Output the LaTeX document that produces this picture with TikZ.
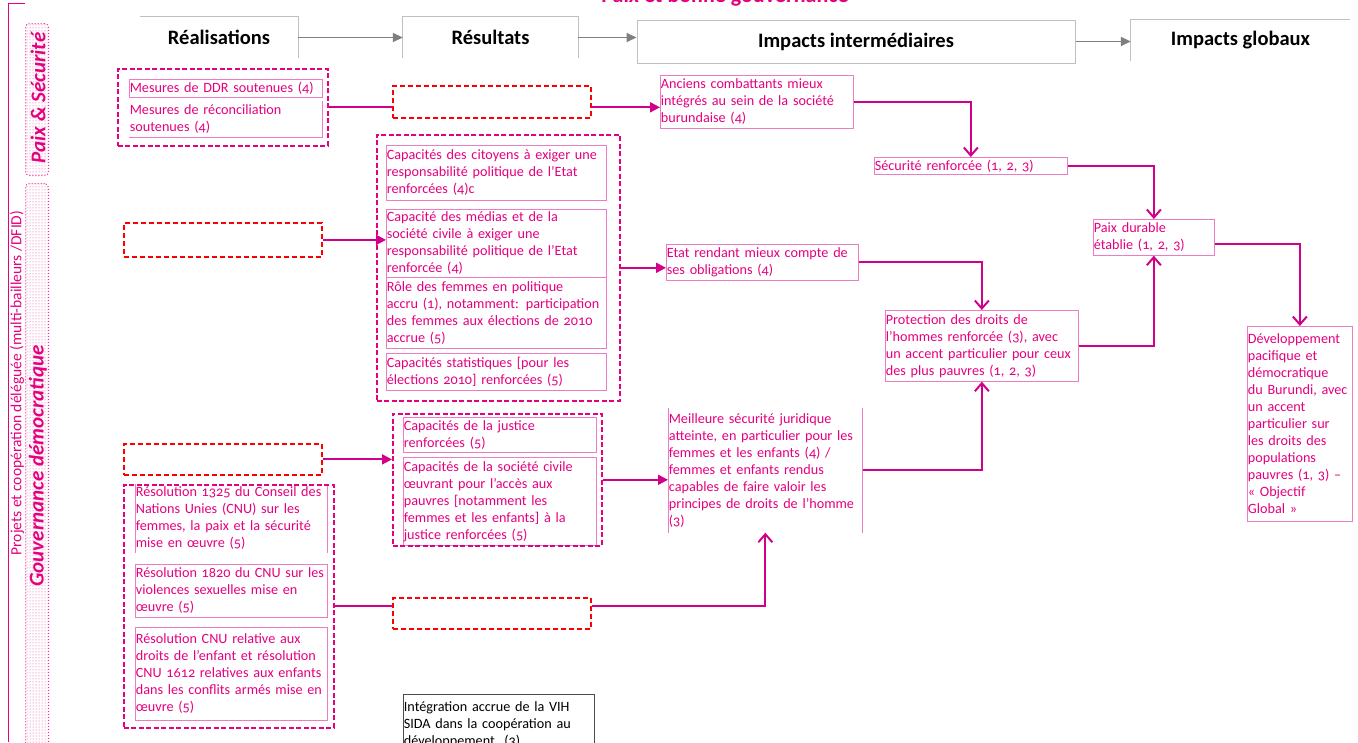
\documentclass[tikz,border=0pt]{standalone}
\usepackage{fontspec}
\setmainfont{Carlito}[Numbers=OldStyle]
\usetikzlibrary{arrows.meta,patterns}
\definecolor{rose}{HTML}{E5007E}
\definecolor{rosefonce}{HTML}{D1008A}
\definecolor{roseclair}{HTML}{EE7CC0}
\definecolor{grisfl}{HTML}{7F7F7F}
\definecolor{grisbord}{HTML}{BFBFBF}
\newcommand{\corps}{\fontsize{14.2}{17}\selectfont}
\newcommand{\entetefont}{\fontsize{20.5}{24}\selectfont\bfseries}
\newcommand{\axefont}{\fontsize{21}{24}\selectfont\bfseries\itshape}

\begin{document}
\begin{tikzpicture}[x=1pt,y=-1pt,
  cadre/.style={draw=roseclair, line width=0.7pt, text=rose, font=\corps, align=left, anchor=north west, inner xsep=0.5pt, inner ysep=1pt},
  sanscadre/.style={cadre, draw=none},
  bordure/.style={draw=roseclair, line width=0.7pt},
  vide/.style={draw=red, line width=1.8pt, dash pattern=on 5pt off 3pt, anchor=north west, inner sep=0pt},
  groupe/.style={draw=rose, line width=1.6pt, dash pattern=on 5pt off 2.5pt, anchor=north west, inner sep=0pt},
  axe/.style={draw=rose!80, dotted, line width=1pt, rounded corners=4pt, pattern=dots, pattern color=rose!75, anchor=north west, inner sep=0pt},
  entete/.style={font=\entetefont, inner sep=0pt},
  bord/.style={draw=grisbord, line width=1pt},
  gfleche/.style={draw=grisfl, line width=1.8pt, -{Triangle[length=10pt,width=9pt]}},
  lien/.style={draw=rosefonce, line width=2pt},
  fleche/.style={lien, -{Triangle[length=10pt,width=10pt]}},
  pointe/.style={lien, -{Straight Barb[length=8pt,width=14pt]}},
]
\useasboundingbox (0,0) rectangle (1358,742);

% titre (coupe en haut)
\node[font=\fontsize{22}{26}\selectfont\bfseries, text=rose, anchor=base] (titre) at (725,2) {Paix et bonne gouvernance};

% colonne de gauche
\draw[rose, line width=0.8pt] (25,3) -- (8,3) -- (8,742);
\node[rotate=90, text=rose, font=\fontsize{15.5}{18}\selectfont] (projets) at (17,383) {Projets et coopération déléguée (multi-bailleurs /DFID)};
\node[axe, minimum width=23pt, minimum height=152pt] (paixsec) at (25,23) {};
\node[rotate=90, text=rose, font=\axefont] (tpaix) at (38,98) {Paix \& Sécurité};
\node[axe, minimum width=23pt, minimum height=600pt] (gouv) at (25,183) {};
\node[rotate=90, text=rose, font=\axefont] (tgouv) at (38,466) {Gouvernance démocratique};

% en-tetes
\node[entete, minimum width=158pt, minimum height=41pt] (hreal) at (219,37.5) {Réalisations};
\node[entete, minimum width=175pt, minimum height=41pt] (hres) at (490.5,37.5) {Résultats};
\node[entete, draw=grisbord, line width=1pt, minimum width=438pt, minimum height=43pt] (hinter) at (856,41.5) {Impacts intermédiaires};
\node[entete, minimum width=219pt, minimum height=41pt] (hglob) at (1240.5,40.5) {Impacts globaux};
\draw[bord] (hreal.south east) -- (hreal.north east) -- (hreal.north west);
\draw[bord] (hres.south west) -- (hres.north west) -- (hres.north east) -- (hres.south east);
\draw[bord] (hglob.south west) -- (hglob.north west) -- (hglob.north east);
\draw[gfleche] (hreal.east) -- (hreal.east -| hres.west);
\draw[gfleche] (hres.east) -- (hres.east -| hinter.west);
\draw[gfleche] (hinter.east) -- (hinter.east -| hglob.west);

% paix et securite
\node[cadre, text width=192pt, minimum height=18pt] (ddr) at (129,79) {Mesures de DDR soutenues (4)};
\node[sanscadre, text width=192pt, minimum height=36pt] (recon) at (129,101) {Mesures de réconciliation\\soutenues (4)};
\draw[bordure] (recon.north east) -- (recon.south east) -- (recon.south west);
\node[groupe, minimum width=210pt, minimum height=77pt] (g1) at (117,68) {};
\node[vide, minimum width=198pt, minimum height=32pt] (r1) at (392,85) {};
\node[cadre, text width=192pt, minimum height=53pt] (anc) at (660,75) {Anciens combattants mieux\\intégrés au sein de la société\\burundaise (4)};
\node[cadre, text width=192pt, minimum height=17pt] (sec) at (874,157) {Sécurité renforcée (1, 2, 3)};
\node[cadre, text width=120pt, minimum height=36pt] (paix) at (1093,219) {Paix durable\\établie (1, 2, 3)};
\node[cadre, text width=104pt, minimum height=195pt] (dev) at (1247,326) {Développement\\pacifique et\\démocratique\\du Burundi, avec\\un accent\\particulier sur\\les droits des\\populations\\pauvres (1, 3) –\\« Objectif\\Global »};

% gouvernance : redevabilite
\node[cadre, text width=219pt, minimum height=55pt] (cit) at (386,145) {Capacités des citoyens à exiger une\\responsabilité politique de l’Etat\\renforcées (4)c};
\node[cadre, text width=219pt, minimum height=68pt] (med) at (386,209) {Capacité des médias et de la\\société civile à exiger une\\responsabilité politique de l’Etat\\renforcée (4)};
\node[cadre, text width=219pt, minimum height=71pt] (fem) at (386,277) {Rôle des femmes en politique\\accru (1), notamment: participation\\des femmes aux élections de 2010\\accrue (5)};
\node[cadre, text width=219pt, minimum height=37pt] (stat) at (386,353) {Capacités statistiques [pour les\\élections 2010] renforcées (5)};
\node[groupe, minimum width=243pt, minimum height=266pt] (g2) at (376,134) {};
\node[vide, minimum width=198pt, minimum height=34pt] (r2) at (123,222) {};
\node[cadre, text width=191pt, minimum height=36pt] (etat) at (666,244) {Etat rendant mieux compte de\\ses obligations (4)};
\node[cadre, text width=192pt, minimum height=71pt] (prot) at (885,310) {Protection des droits de\\l’hommes renforcée (3), avec\\un accent particulier pour ceux\\des plus pauvres (1, 2, 3)};

% gouvernance : justice
\node[cadre, text width=192pt, minimum height=35pt] (jus) at (403,417) {Capacités de la justice\\renforcées (5)};
\node[cadre, text width=192pt, minimum height=88pt] (soc) at (403,457) {Capacités de la société civile\\œuvrant pour l’accès aux\\pauvres [notamment les\\femmes et les enfants] à la\\justice renforcées (5)};
\node[groupe, minimum width=209pt, minimum height=132pt] (g3) at (392,413) {};
\node[vide, minimum width=198pt, minimum height=31pt] (r3) at (123,443) {};
\node[sanscadre, text width=193pt, minimum height=124pt] (mei) at (668,408) {Meilleure sécurité juridique\\atteinte, en particulier pour les\\femmes et les enfants (4) /\\femmes et enfants rendus\\capables de faire valoir les\\principes de droits de l’homme\\(3)};
\draw[bordure] (mei.north west) -- (mei.south west);
\draw[bordure] (mei.north east) -- (mei.south east);

% gouvernance : resolutions CNU
\node[sanscadre, text width=191pt, minimum height=68pt] (res1325) at (135,484) {Résolution 1325 du Conseil des\\Nations Unies (CNU) sur les\\femmes, la paix et la sécurité\\mise en œuvre (5)};
\draw[bordure] (res1325.north west) -- (res1325.south west);
\draw[bordure] (res1325.north east) -- (res1325.south east);
\node[cadre, text width=191pt, minimum height=53pt] (res1820) at (135,564) {Résolution 1820 du CNU sur les\\violences sexuelles mise en\\œuvre (5)};
\node[cadre, text width=191pt, minimum height=93pt] (res1612) at (135,627) {Résolution CNU relative aux\\droits de l’enfant et résolution\\CNU 1612 relatives aux enfants\\dans les conflits armés mise en\\œuvre (5)};
\node[groupe, minimum width=210pt, minimum height=243pt] (g4) at (123,484) {};
\node[vide, minimum width=198pt, minimum height=31pt] (r4) at (392,597) {};
\node[cadre, draw=black!70, text=black, text width=190pt, minimum height=60pt] (vih) at (403,694) {Intégration accrue de la VIH\\SIDA dans la coopération au\\développement~~(3)};

% liens
\draw[lien] (g1.east) -- (g1.east -| r1.west);
\draw[fleche] (g1.east -| r1.east) -- (g1.east -| anc.west);
\draw[pointe] (anc.east) -| (sec.north);
\draw[pointe] (sec.east) -| (paix.north);
\draw[pointe] ([yshift=-7pt]paix.east) -| (dev.north);
\draw[fleche] (r2.east) -- (r2.east -| med.west);
\draw[fleche] (g2.east) -- (g2.east -| etat.west);
\draw[pointe] (etat.east) -| (prot.north);
\draw[pointe] (prot.east) -| (paix.south);
\draw[fleche] (r3.east) -- (r3.east -| g3.west);
\draw[fleche] (g3.east) -- (g3.east -| mei.west);
\draw[pointe] (mei.east) -| (prot.south);
\draw[lien] (g4.east) -- (g4.east -| r4.west);
\draw[pointe] (g4.east -| r4.east) -| (mei.south);
\end{tikzpicture}
\end{document}
